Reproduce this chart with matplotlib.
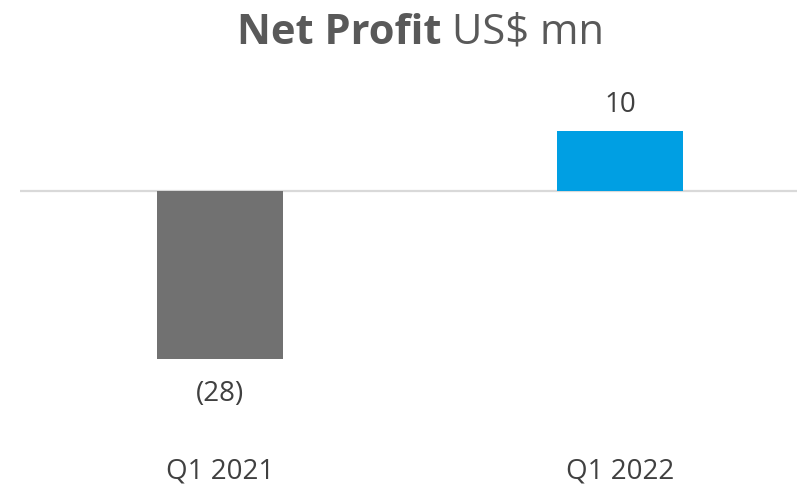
import matplotlib.pyplot as plt

# data
categories = ['Q1 2021', 'Q1 2022']
net_profit = [-28, 10]
value_labels = ['(28)', '10']
bar_colors = ['#717171', '#009FE3']

plt.rcParams['font.family'] = ['Open Sans', 'DejaVu Sans']

W, H = 797, 486
fig = plt.figure(figsize=(W / 100, H / 100), dpi=100)

# axes placed in pixels: x 20..797, y 91..431
ax = fig.add_axes([20 / W, (H - 431) / H, 777 / W, 340 / H])
x = list(range(len(categories)))
ax.bar(x, net_profit, width=0.315, color=bar_colors, zorder=2)
ax.set_xlim(-0.5, 1.4425)
ax.set_ylim(-40, 16.67)
ax.axhline(0, color='#D9D9D9', linewidth=1.6, zorder=1)

for s in ax.spines.values():
    s.set_visible(False)
ax.set_yticks([])
ax.set_xticks(x)
ax.set_xticklabels(categories, fontsize=20, color='#404040')
ax.tick_params(axis='x', length=0, pad=19)

# value labels
for xi, v, lab in zip(x, net_profit, value_labels):
    if v >= 0:
        ax.annotate(lab, (xi, v), xytext=(0, 9), textcoords='offset points',
                    ha='center', va='bottom', fontsize=20, color='#404040')
    else:
        ax.annotate(lab, (xi, v), xytext=(0, -15), textcoords='offset points',
                    ha='center', va='top', fontsize=20, color='#404040')

# title: bold part + regular part
t1 = fig.text(237 / W, 1 - 44 / H, 'Net Profit ', fontsize=30, fontweight='bold',
              color='#595959', ha='left', va='baseline')
ax.annotate('US$ mn', xy=(1, 0), xycoords=t1, xytext=(0, 0), textcoords='offset points',
            fontsize=30, color='#595959', ha='left', va='bottom', annotation_clip=False)

fig.savefig('out.png', dpi=100)
